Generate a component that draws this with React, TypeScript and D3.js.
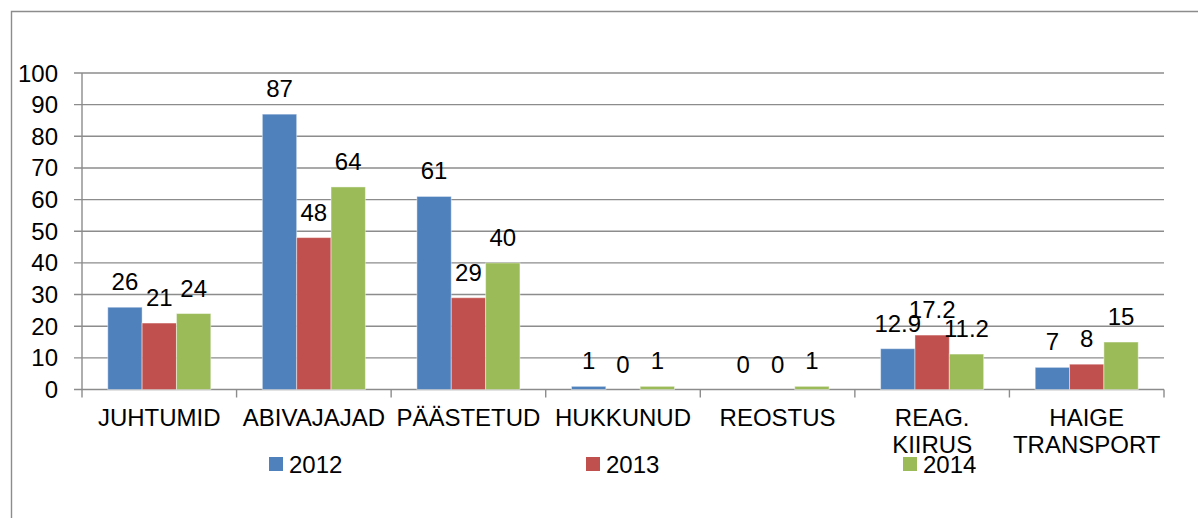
import * as d3 from "d3";

const categories = [
  ["JUHTUMID"],
  ["ABIVAJAJAD"],
  ["PÄÄSTETUD"],
  ["HUKKUNUD"],
  ["REOSTUS"],
  ["REAG.", "KIIRUS"],
  ["HAIGE", "TRANSPORT"],
];
const years = ["2012", "2013", "2014"];
const values2012 = [26, 87, 61, 1, 0, 12.9, 7];
const values2013 = [21, 48, 29, 0, 0, 17.2, 8];
const values2014 = [24, 64, 40, 1, 1, 11.2, 15];
const yTicks = [0, 10, 20, 30, 40, 50, 60, 70, 80, 90, 100];

const colors = ["#4F81BD", "#C0504D", "#9BBB59"];
const series = [values2012, values2013, values2014];

const W = 1198;
const H = 518;
const left = 82;
const right = 1164;
const top = 73;
const bottom = 389.5;
const font = "'Liberation Sans', Arial, sans-serif";
const grid = "#8c8c8c";

const App = () => {
  const x = d3
    .scaleBand<number>()
    .domain(d3.range(categories.length))
    .range([left, right]);
  // gap width 150% -> half a gap (0.75 bar) on each side of the group
  const inner = d3
    .scaleBand<number>()
    .domain(d3.range(years.length))
    .range([0, x.bandwidth()])
    .paddingInner(0)
    .paddingOuter(0.75);
  const y = d3.scaleLinear().domain([0, 100]).range([bottom, top]);

  return (
    <svg
      width={W}
      height={H}
      style={{ position: "absolute", left: 0, top: 0, background: "#fff" }}
      fontFamily={font}
    >
      {/* outer frame */}
      <path d={`M11.5,${H + 5} V11.5 H${W + 5}`} fill="none" stroke={grid} strokeWidth={1.4} />

      {/* gridlines + y ticks */}
      {yTicks.map((t) => (
        <g key={t}>
          <line x1={left - 8} x2={right} y1={y(t)} y2={y(t)} stroke={grid} strokeWidth={1.4} />
          <text x={58} y={y(t) + 8.5} textAnchor="end" fontSize={24} fill="#000">
            {t}
          </text>
        </g>
      ))}
      <line x1={left} x2={left} y1={top} y2={bottom} stroke={grid} strokeWidth={1.4} />
      {d3.range(categories.length + 1).map((i) => {
        const xx = i < categories.length ? x(i)! : right;
        return <line key={i} x1={xx} x2={xx} y1={bottom} y2={bottom + 8} stroke={grid} strokeWidth={1.4} />;
      })}

      {/* bars */}
      {series.map((vals, s) =>
        vals.map((v, i) => (
          <rect
            key={`${s}-${i}`}
            x={x(i)! + inner(s)!}
            y={y(v)}
            width={inner.bandwidth()}
            height={bottom - y(v)}
            fill={colors[s]}
            stroke="rgba(255,255,255,0.45)"
            strokeWidth={1}
          />
        ))
      )}

      {/* value labels */}
      {series.map((vals, s) =>
        vals.map((v, i) => (
          <text
            key={`l${s}-${i}`}
            x={x(i)! + inner(s)! + inner.bandwidth() / 2}
            y={y(v) - 17}
            textAnchor="middle"
            fontSize={24}
            fill="#000"
          >
            {v}
          </text>
        ))
      )}

      {/* category labels */}
      {categories.map((lines, i) => (
        <text key={i} x={x(i)! + x.bandwidth() / 2} textAnchor="middle" fontSize={24} fill="#000">
          {lines.map((ln, k) => (
            <tspan key={k} x={x(i)! + x.bandwidth() / 2} y={426 + k * 27}>
              {ln}
            </tspan>
          ))}
        </text>
      ))}

      {/* legend */}
      {years.map((yr, s) => (
        <g key={yr} transform={`translate(${269 + s * 317},0)`}>
          <rect x={0} y={457} width={14} height={14} fill={colors[s]} />
          <text x={20} y={473} fontSize={24} fill="#000">
            {yr}
          </text>
        </g>
      ))}
    </svg>
  );
};

export default App;
